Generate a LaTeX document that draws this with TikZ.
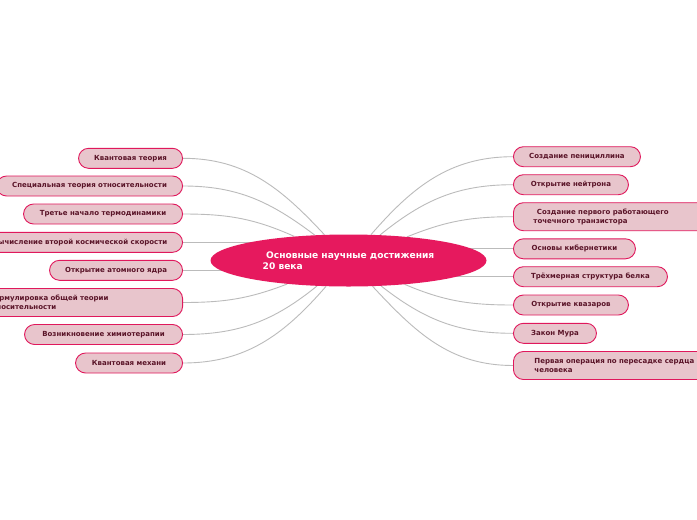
\documentclass[tikz,border=0pt]{standalone}
\usepackage{fontspec}
\setmainfont{DejaVu Sans}
\usetikzlibrary{shapes.geometric,backgrounds}
\definecolor{nodefill}{HTML}{E8C5CC}
\definecolor{nodeborder}{HTML}{E0185C}
\definecolor{centerfill}{HTML}{E6195E}
\definecolor{nodetext}{HTML}{5A1428}
\definecolor{conncol}{HTML}{BBBBBB}
\begin{document}
\begin{tikzpicture}[x=1pt,y=-1pt,
  topic/.style={draw=nodeborder, fill=nodefill, line width=0.9pt, rounded corners=10pt,
    minimum height=20pt, inner ysep=0pt, inner xsep=0pt, text=nodetext,
    font=\bfseries\fontsize{7}{9}\selectfont},
  ltopic/.style={topic, anchor=east},
  rtopic/.style={topic, anchor=west},
  twoline/.style={minimum height=28pt, align=left},
  conn/.style={draw=conncol, line width=0.9pt},
  hub/.style={ellipse, fill=centerfill, text=white, minimum width=276pt, minimum height=52pt,
    inner sep=0pt, align=left, font=\bfseries\fontsize{9.1}{11}\selectfont}]
\useasboundingbox (0,0) rectangle (697,520);

\node[hub] (c) at (348.5,260.5) {\hspace*{3.5pt}Основные научные достижения\\20 века};

% left topics
\node[ltopic, minimum width=104pt] (L1) at (183,158.3) {Квантовая теория};
\node[ltopic, minimum width=186pt] (L2) at (183,186) {Специальная теория относительности};
\node[ltopic, minimum width=159pt] (L3) at (183,214) {Третье начало термодинамики};
\node[ltopic, minimum width=205pt] (L4) at (183,242.3) {Вычисление второй космической скорости};
\node[ltopic, minimum width=133pt] (L5) at (183,270.3) {Открытие атомного ядра};
\node[ltopic, twoline, text width=179pt, inner xsep=16pt] (L6) at (183,302.5) {Формулировка общей теории\\относительности};
\node[ltopic, minimum width=158pt] (L7) at (183,334.5) {Возникновение химиотерапии};
\node[ltopic, minimum width=107pt] (L8) at (183,363) {Квантовая механи};

% right topics
\node[rtopic, minimum width=127pt] (R1) at (513,156.7) {Создание пенициллина};
\node[rtopic, minimum width=115pt] (R2) at (513,184.7) {Открытие нейтрона};
\node[rtopic, twoline, text width=180pt, inner xsep=20pt] (R3) at (513,216.7) {\hspace*{3.5pt}Создание первого работающего\\точечного транзистора};
\node[rtopic, minimum width=122pt] (R4) at (513,248.8) {Основы кибернетики};
\node[rtopic, minimum width=154pt] (R5) at (513,276.7) {Трёхмерная структура белка};
\node[rtopic, minimum width=115pt] (R6) at (513,305) {Открытие квазаров};
\node[rtopic, minimum width=83pt] (R7) at (513,333.3) {Закон Мура};
\node[rtopic, twoline, text width=180pt, inner xsep=21pt] (R8) at (513,365.5) {Первая операция по пересадке сердца\\человека};

\begin{pgfonlayer}{background}
\fill[white] (0,0) rectangle (697,520);
\draw[conn] (c.133) to[out=133,in=0] (L1.east);
\draw[conn] (c.143) to[out=143,in=0] (L2.east);
\draw[conn] (c.156) to[out=156,in=0] (L3.east);
\draw[conn] (L4.east) -- (L4.east -| c.center);
\draw[conn] (L5.east) -- (L5.east -| c.center);
\draw[conn] (c.201) to[out=201,in=0] (L6.east);
\draw[conn] (c.219) to[out=219,in=0] (L7.east);
\draw[conn] (c.229) to[out=229,in=0] (L8.east);
\draw[conn] (c.49) to[out=49,in=180] (R1.west);
\draw[conn] (c.39) to[out=39,in=180] (R2.west);
\draw[conn] (c.22) to[out=22,in=180] (R3.west);
\draw[conn] (R4.west) -- (R4.west -| c.center);
\draw[conn] (R5.west) -- (R5.west -| c.center);
\draw[conn] (c.-23) to[out=-23,in=180] (R6.west);
\draw[conn] (c.-38) to[out=-38,in=180] (R7.west);
\draw[conn] (c.-47) to[out=-47,in=180] (R8.west);
\end{pgfonlayer}
\end{tikzpicture}
\end{document}
